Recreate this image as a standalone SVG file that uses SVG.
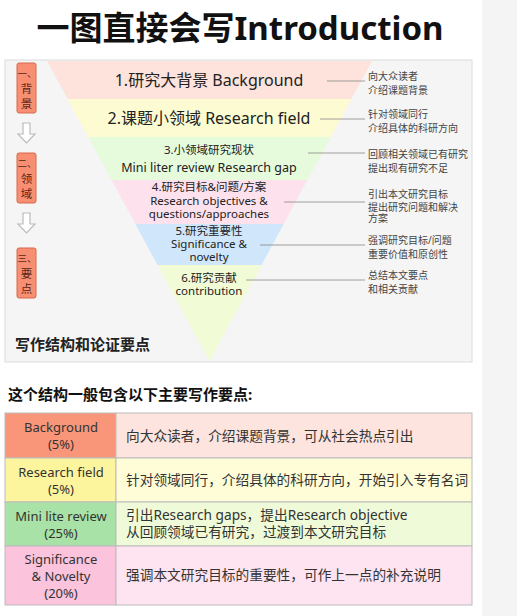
<svg xmlns="http://www.w3.org/2000/svg" width="517" height="616" viewBox="0 0 517 616">
<style>
text{font-family:"Noto Sans","Noto Sans CJK SC",sans-serif;fill:#222}
.c{text-anchor:middle}
.big{font-size:16px}
.sm{font-size:11.5px}
.ann{font-size:10px;fill:#444}
.lead{stroke:#888;stroke-width:0.8;fill:none}
.tag{fill:#f98f72;stroke:#d8694d;stroke-width:1}
.tagt{font-size:11.5px;fill:#5a2616;text-anchor:middle}
.tagn{font-size:9.5px;fill:#5a2616}
.arw{fill:#fff;stroke:#bbb;stroke-width:1.2}
.tl{font-size:13px;text-anchor:middle;fill:#333}
.tr{font-size:13.7px;fill:#333}
.cell{stroke:#bbb;stroke-width:1}
</style>
<rect x="0" y="0" width="517" height="616" fill="#fff"/>
<rect x="482" y="0" width="35" height="616" fill="#f4f4f4"/>
<text x="240" y="40" class="c" style="font-size:33px;font-weight:bold;fill:#111">一图直接会写Introduction</text>

<g id="panel">
<rect x="5" y="60" width="467" height="302" fill="#f5f5f5" stroke="#dcdcdc"/>
</g>

<g id="funnel">
<polygon points="47,61 372,61 351.4,99 67.6,99" fill="#fde3dc"/>
<polygon points="67.6,99 351.4,99 330.8,137 88.2,137" fill="#fdfbd2"/>
<polygon points="88.2,137 330.8,137 307.5,180 111.5,180" fill="#e5fbdb"/>
<polygon points="111.5,180 307.5,180 283.7,224 135.3,224" fill="#fde2ee"/>
<polygon points="135.3,224 283.7,224 261.5,265 157.5,265" fill="#cfe6fb"/>
<polygon points="157.5,265 261.5,265 209.5,361" fill="#f1fbd6"/>
</g>

<g id="stage1"><text x="209" y="86" class="c big">1.研究大背景 Background</text></g>
<g id="stage2"><text x="209" y="124" class="c big">2.课题小领域 Research field</text></g>
<g id="stage3"><text x="209" y="154" class="c sm">3.小领域研究现状</text><text x="209" y="172" class="c" style="font-size:12.5px">Mini liter review Research gap</text></g>
<g id="stage4"><text x="209" y="191" class="c sm">4.研究目标&amp;问题/方案</text><text x="209" y="205" class="c sm">Research objectives &amp;</text><text x="209" y="218" class="c sm">questions/approaches</text></g>
<g id="stage5"><text x="209" y="235" class="c sm">5.研究重要性</text><text x="209" y="248" class="c sm">Significance &amp;</text><text x="209" y="261" class="c sm">novelty</text></g>
<g id="stage6"><text x="209" y="282" class="c sm">6.研究贡献</text><text x="209" y="295" class="c sm">contribution</text></g>

<g id="connectors">
<line class="lead" x1="327" y1="81" x2="365" y2="81"/>
<line class="lead" x1="320" y1="119" x2="365" y2="119"/>
<line class="lead" x1="308" y1="153" x2="365" y2="153"/>
<line class="lead" x1="284" y1="202" x2="365" y2="202"/>
<line class="lead" x1="260" y1="245" x2="365" y2="245"/>
<line class="lead" x1="246" y1="280" x2="365" y2="280"/>
</g>

<g id="notes">
<text x="368" y="80" class="ann">向大众读者</text><text x="368" y="94" class="ann">介绍课题背景</text>
<text x="368" y="118" class="ann">针对领域同行</text><text x="368" y="132" class="ann">介绍具体的科研方向</text>
<text x="368" y="158" class="ann">回顾相关领域已有研究</text><text x="368" y="172" class="ann">提出现有研究不足</text>
<text x="368" y="198" class="ann">引出本文研究目标</text><text x="368" y="211" class="ann">提出研究问题和解决</text><text x="368" y="222" class="ann">方案</text>
<text x="368" y="244" class="ann">强调研究目标/问题</text><text x="368" y="258" class="ann">重要价值和原创性</text>
<text x="368" y="279" class="ann">总结本文要点</text><text x="368" y="293" class="ann">和相关贡献</text>
</g>

<g id="tag1"><rect class="tag" x="17" y="63" width="19" height="50" rx="2"/><text x="17.5" y="77" class="tagn">一、</text><text x="26.5" y="93" class="tagt">背</text><text x="26.5" y="108" class="tagt">景</text></g>
<g id="tag2"><rect class="tag" x="17" y="153" width="19" height="50" rx="2"/><text x="17.5" y="167" class="tagn">二、</text><text x="26.5" y="183" class="tagt">领</text><text x="26.5" y="198" class="tagt">域</text></g>
<g id="tag3"><rect class="tag" x="17" y="248" width="19" height="50" rx="2"/><text x="17.5" y="262" class="tagn">三、</text><text x="26.5" y="278" class="tagt">要</text><text x="26.5" y="293" class="tagt">点</text></g>
<g id="arrows">
<path class="arw" d="M23,123 H30 V134 H35 L26.5,143 L18,134 H23 Z"/>
<path class="arw" d="M23,213 H30 V224 H35 L26.5,233 L18,224 H23 Z"/>
</g>
<text x="15" y="350" style="font-size:15px;font-weight:bold;fill:#222">写作结构和论证要点</text>

<text x="8" y="400" style="font-size:15px;font-weight:bold;fill:#111">这个结构一般包含以下主要写作要点:</text>

<g id="table">
<rect class="cell" x="5" y="413" width="111" height="45" fill="#f9967a"/>
<rect class="cell" x="116" y="413" width="356" height="45" fill="#fde4de"/>
<rect class="cell" x="5" y="458" width="111" height="44" fill="#fdf59d"/>
<rect class="cell" x="116" y="458" width="356" height="44" fill="#fefdd8"/>
<rect class="cell" x="5" y="502" width="111" height="44" fill="#a9e2a6"/>
<rect class="cell" x="116" y="502" width="356" height="44" fill="#effbd8"/>
<rect class="cell" x="5" y="546" width="111" height="59" fill="#fbc3dc"/>
<rect class="cell" x="116" y="546" width="356" height="59" fill="#fde4f0"/>
<text x="61" y="432" class="tl">Background</text><text x="61" y="449" class="tl">(5%)</text>
<text x="61" y="477" class="tl">Research field</text><text x="61" y="494" class="tl">(5%)</text>
<text x="61" y="521" class="tl">Mini lite review</text><text x="61" y="538" class="tl">(25%)</text>
<text x="61" y="564" class="tl">Significance</text><text x="61" y="581" class="tl">&amp; Novelty</text><text x="61" y="598" class="tl">(20%)</text>
<text x="126" y="441" class="tr">向大众读者，介绍课题背景，可从社会热点引出</text>
<text x="126" y="485" class="tr">针对领域同行，介绍具体的科研方向，开始引入专有名词</text>
<text x="126" y="520" class="tr">引出Research gaps，提出Research objective</text>
<text x="126" y="537" class="tr">从回顾领域已有研究，过渡到本文研究目标</text>
<text x="126" y="580" class="tr">强调本文研究目标的重要性，可作上一点的补充说明</text>
</g>
</svg>
